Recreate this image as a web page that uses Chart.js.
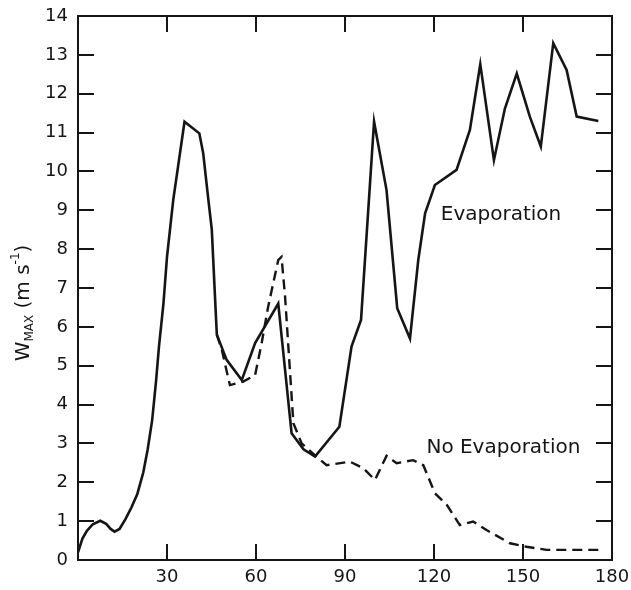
<!DOCTYPE html>
<html>
<head>
<meta charset="utf-8">
<script src="https://cdn.jsdelivr.net/npm/chart.js@4"></script>
<style>
  html, body { margin: 0; padding: 0; background: #fff; }
  #wrap { width: 631px; height: 590px; }
</style>
</head>
<body>
<div id="wrap"><canvas id="chart" width="631" height="590"></canvas></div>
<script>
// Values (time on x, W max on y)
const evapX = [0, 1.5, 3, 5, 7.5, 9.5, 11, 12.3, 14, 16, 18, 20, 22, 23.5, 25, 26.3, 27.3, 28.8, 30, 32.1, 35.9,
  40.9, 42.2, 43.9, 45.1, 46.5, 46.8, 50.1, 55.2, 59.7, 67.5, 72.0, 76, 79.9, 88.1, 92.2, 95.4, 99.8, 104.0,
  107.6, 111.9, 114.7, 117.0, 120.3, 127.6, 132.1, 135.6, 140.2, 143.9, 147.9, 152.3, 156.0, 160.2, 164.7, 168.1, 175.4];
const evapY = [0.2, 0.55, 0.75, 0.92, 1.01, 0.93, 0.8, 0.73, 0.8, 1.05, 1.35, 1.7, 2.25, 2.85, 3.6, 4.6, 5.5, 6.6, 7.8, 9.26, 11.28,
  10.98, 10.47, 9.3, 8.5, 6.26, 5.8, 5.15, 4.63, 5.58, 6.6, 3.26, 2.85, 2.66, 3.43, 5.49, 6.18, 11.28, 9.52,
  6.48, 5.7, 7.72, 8.92, 9.65, 10.04, 11.07, 12.76, 10.29, 11.62, 12.52, 11.41, 10.64, 13.3, 12.61, 11.41, 11.3];

const noEvapX = [46.8, 48.5, 51.2, 55.7, 59.7, 61.9, 64.1, 67.5, 68.6, 69.8, 72.6, 75.4, 80.4, 83.8, 91.7, 96.2,
  100.1, 104.0, 107.4, 113.0, 116.4, 120.3, 124.3, 128.7, 133.2, 137.7, 145.6, 151.2, 158.0, 176.5];
const noEvapY = [5.8, 5.4, 4.5, 4.59, 4.76, 5.58, 6.52, 7.72, 7.8, 6.78, 3.52, 3.0, 2.66, 2.44, 2.53, 2.36,
  2.06, 2.68, 2.49, 2.57, 2.44, 1.72, 1.42, 0.9, 0.99, 0.77, 0.43, 0.34, 0.26, 0.26];

const xTicks = [30, 60, 90, 120, 150, 180];
const yTicks = [0, 1, 2, 3, 4, 5, 6, 7, 8, 9, 10, 11, 12, 13, 14];

// Curve labels, placed in data coordinates
const labels = [
  { text: 'Evaporation', x: 142.6, y: 8.88 },
  { text: 'No Evaporation', x: 143.4, y: 2.88 }
];

const toPoints = (xs, ys) => xs.map((x, i) => ({ x, y: ys[i] }));
const INK = '#151515';
const FONT = '"DejaVu Sans", sans-serif';

// Frame, inward ticks, curve labels and the rotated axis title
const decorations = {
  id: 'decorations',
  afterDraw(chart) {
    const { ctx, chartArea: a, scales: { x, y } } = chart;
    const len = 16;
    ctx.save();
    ctx.strokeStyle = INK;
    ctx.lineWidth = 2;
    ctx.strokeRect(a.left, a.top, a.right - a.left, a.bottom - a.top);

    ctx.beginPath();
    yTicks.filter(v => v > 0 && v < 14).forEach(v => {
      const py = Math.round(y.getPixelForValue(v));
      ctx.moveTo(a.left, py); ctx.lineTo(a.left + len, py);
      ctx.moveTo(a.right, py); ctx.lineTo(a.right - len, py);
    });
    xTicks.filter(v => v < 180).forEach(v => {
      const px = Math.round(x.getPixelForValue(v));
      ctx.moveTo(px, a.bottom); ctx.lineTo(px, a.bottom - len);
      ctx.moveTo(px, a.top); ctx.lineTo(px, a.top + len);
    });
    ctx.stroke();

    ctx.fillStyle = INK;
    ctx.font = '20px ' + FONT;
    ctx.textAlign = 'center';
    ctx.textBaseline = 'middle';
    labels.forEach(l => ctx.fillText(l.text, x.getPixelForValue(l.x), y.getPixelForValue(l.y)));

    // W_MAX (m s^-1), rotated
    const parts = [
      { t: 'W', size: 20, dy: 0 },
      { t: 'MAX', size: 12, dy: 6 },
      { t: ' (m s', size: 20, dy: 0 },
      { t: '-1', size: 12, dy: -8 },
      { t: ')', size: 20, dy: 0 }
    ];
    let total = 0;
    parts.forEach(p => { ctx.font = p.size + 'px ' + FONT; p.w = ctx.measureText(p.t).width; total += p.w; });
    ctx.translate(24, 303);
    ctx.rotate(-Math.PI / 2);
    ctx.textAlign = 'left';
    let cx = -total / 2;
    parts.forEach(p => {
      ctx.font = p.size + 'px ' + FONT;
      ctx.fillText(p.t, cx, p.dy);
      cx += p.w;
    });
    ctx.restore();
  }
};

new Chart(document.getElementById('chart'), {
  type: 'line',
  data: {
    datasets: [
      { label: 'Evaporation', data: toPoints(evapX, evapY), borderColor: INK, borderWidth: 2.6,
        pointRadius: 0, tension: 0, fill: false },
      { label: 'No Evaporation', data: toPoints(noEvapX, noEvapY), borderColor: INK, borderWidth: 2.4,
        borderDash: [10, 6], pointRadius: 0, tension: 0, fill: false }
    ]
  },
  options: {
    responsive: false,
    animation: false,
    layout: { padding: { top: 16, right: 19, left: 0, bottom: 0 } },
    plugins: { legend: { display: false }, tooltip: { enabled: false } },
    scales: {
      x: {
        type: 'linear', min: 0, max: 180,
        afterBuildTicks: s => { s.ticks = xTicks.map(v => ({ value: v })); },
        afterFit: s => { s.height = 30; },
        grid: { display: false, tickLength: 7 }, border: { display: false },
        ticks: { color: INK, padding: 0, maxRotation: 0, font: { family: FONT, size: 18 } }
      },
      y: {
        min: 0, max: 14,
        afterBuildTicks: s => { s.ticks = yTicks.map(v => ({ value: v })); },
        afterFit: s => { s.width = 78; },
        grid: { display: false, tickLength: 10 }, border: { display: false },
        ticks: { color: INK, padding: 0, font: { family: FONT, size: 18 } }
      }
    }
  },
  plugins: [decorations]
});
</script>
</body>
</html>
